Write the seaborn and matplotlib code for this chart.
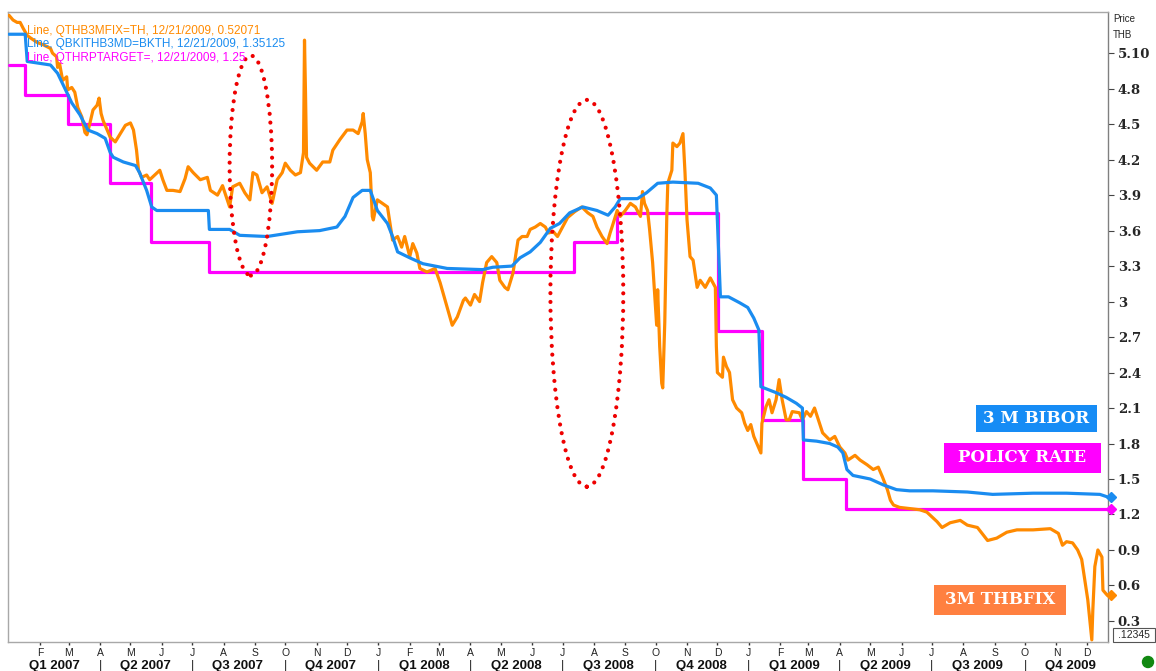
import pandas as pd
import seaborn as sns
import matplotlib.pyplot as plt
import matplotlib.dates as mdates
from matplotlib.patches import Ellipse, Rectangle

sns.set_theme(style="white")
plt.rcParams["font.family"] = ["Liberation Sans", "DejaVu Sans"]

ORANGE = "#ff8a00"
BLUE = "#1a8cf0"
MAGENTA = "#ff00ff"

# 3M THBFIX
fix_dates = [
    "2007-01-01", "2007-01-05", "2007-01-09", "2007-01-12", "2007-01-15", "2007-01-19",
    "2007-01-22", "2007-01-29", "2007-02-04", "2007-02-11", "2007-02-13", "2007-02-17",
    "2007-02-18", "2007-02-20", "2007-02-23", "2007-02-27", "2007-02-28", "2007-03-04",
    "2007-03-07", "2007-03-10", "2007-03-14", "2007-03-17", "2007-03-19", "2007-03-22",
    "2007-03-25", "2007-03-29", "2007-03-31", "2007-04-02", "2007-04-04", "2007-04-08",
    "2007-04-11", "2007-04-16", "2007-04-21", "2007-04-26", "2007-05-01", "2007-05-04",
    "2007-05-07", "2007-05-09", "2007-05-12", "2007-05-17", "2007-05-20", "2007-05-25",
    "2007-05-30", "2007-06-02", "2007-06-06", "2007-06-12", "2007-06-19", "2007-06-24",
    "2007-06-27", "2007-07-02", "2007-07-09", "2007-07-16", "2007-07-19", "2007-07-26",
    "2007-07-31", "2007-08-07", "2007-08-10", "2007-08-17", "2007-08-22", "2007-08-27",
    "2007-08-30", "2007-09-03", "2007-09-08", "2007-09-13", "2007-09-18", "2007-09-23",
    "2007-09-28", "2007-10-01", "2007-10-06", "2007-10-11", "2007-10-16", "2007-10-19",
    "2007-10-20", "2007-10-21", "2007-10-22", "2007-10-25", "2007-11-01", "2007-11-07",
    "2007-11-14", "2007-11-17", "2007-11-24", "2007-12-01", "2007-12-07", "2007-12-12",
    "2007-12-16", "2007-12-17", "2007-12-19", "2007-12-21", "2007-12-24", "2007-12-26",
    "2007-12-27", "2007-12-31", "2008-01-05", "2008-01-10", "2008-01-12", "2008-01-15",
    "2008-01-20", "2008-01-24", "2008-01-27", "2008-02-01", "2008-02-04", "2008-02-08",
    "2008-02-11", "2008-02-18", "2008-02-26", "2008-03-02", "2008-03-09", "2008-03-14",
    "2008-03-19", "2008-03-25", "2008-03-27", "2008-04-01", "2008-04-05", "2008-04-10",
    "2008-04-13", "2008-04-17", "2008-04-22", "2008-04-27", "2008-04-30", "2008-05-05",
    "2008-05-08", "2008-05-13", "2008-05-18", "2008-05-22", "2008-05-27", "2008-05-30",
    "2008-06-04", "2008-06-09", "2008-06-14", "2008-06-17", "2008-06-22", "2008-06-26",
    "2008-07-01", "2008-07-06", "2008-07-13", "2008-07-20", "2008-07-26", "2008-07-31",
    "2008-08-04", "2008-08-09", "2008-08-14", "2008-08-17", "2008-08-20", "2008-08-24",
    "2008-08-27", "2008-09-01", "2008-09-06", "2008-09-11", "2008-09-16", "2008-09-18",
    "2008-09-20", "2008-09-23", "2008-09-25", "2008-09-28", "2008-09-30", "2008-10-02",
    "2008-10-03", "2008-10-05", "2008-10-07", "2008-10-08", "2008-10-10", "2008-10-12",
    "2008-10-13", "2008-10-17", "2008-10-18", "2008-10-22", "2008-10-25", "2008-10-28",
    "2008-10-30", "2008-11-01", "2008-11-04", "2008-11-07", "2008-11-11", "2008-11-14",
    "2008-11-19", "2008-11-24", "2008-11-29", "2008-11-30", "2008-12-01", "2008-12-06",
    "2008-12-07", "2008-12-10", "2008-12-13", "2008-12-16", "2008-12-20", "2008-12-25",
    "2008-12-28", "2008-12-31", "2009-01-03", "2009-01-06", "2009-01-09", "2009-01-13",
    "2009-01-14", "2009-01-18", "2009-01-21", "2009-01-24", "2009-01-28", "2009-01-31",
    "2009-02-03", "2009-02-07", "2009-02-10", "2009-02-13", "2009-02-20", "2009-02-23",
    "2009-02-27", "2009-03-03", "2009-03-07", "2009-03-12", "2009-03-15", "2009-03-22",
    "2009-03-27", "2009-04-01", "2009-04-06", "2009-04-09", "2009-04-16", "2009-04-21",
    "2009-04-28", "2009-05-04", "2009-05-09", "2009-05-13", "2009-05-18", "2009-05-21",
    "2009-05-24", "2009-05-30", "2009-06-09", "2009-06-19", "2009-06-26", "2009-07-06",
    "2009-07-11", "2009-07-19", "2009-07-29", "2009-08-05", "2009-08-15", "2009-08-25",
    "2009-09-03", "2009-09-13", "2009-09-23", "2009-10-09", "2009-10-26", "2009-11-03",
    "2009-11-07", "2009-11-11", "2009-11-17", "2009-11-22", "2009-11-26", "2009-11-29",
    "2009-12-02", "2009-12-06", "2009-12-07", "2009-12-09", "2009-12-12", "2009-12-16",
    "2009-12-17", "2009-12-21",
]
fix_values = [
    5.42, 5.38, 5.36, 5.36, 5.31, 5.25,
    5.23, 5.19, 5.17, 5.14, 5.10, 5.07,
    4.98, 5.01, 4.87, 4.90, 4.79, 4.81,
    4.77, 4.64, 4.56, 4.43, 4.41, 4.51,
    4.62, 4.66, 4.72, 4.59, 4.53, 4.45,
    4.39, 4.35, 4.42, 4.49, 4.51, 4.45,
    4.28, 4.11, 4.05, 4.07, 4.03, 4.07,
    4.11, 4.03, 3.94, 3.94, 3.93, 4.04,
    4.14, 4.09, 4.03, 4.05, 3.94, 3.90,
    3.98, 3.80, 3.97, 4.00, 3.92, 3.86,
    4.09, 4.07, 3.92, 3.97, 3.83, 4.03,
    4.09, 4.17, 4.11, 4.07, 4.09, 4.26,
    5.21, 4.76, 4.22, 4.17, 4.11, 4.18,
    4.18, 4.28, 4.37, 4.45, 4.45, 4.42,
    4.52, 4.59, 4.42, 4.20, 4.09, 3.72,
    3.69, 3.86, 3.83, 3.80, 3.69, 3.52,
    3.55, 3.46, 3.55, 3.38, 3.49, 3.41,
    3.28, 3.25, 3.28, 3.16, 2.95, 2.80,
    2.87, 3.01, 3.03, 2.97, 3.06, 3.00,
    3.16, 3.33, 3.38, 3.33, 3.18, 3.12,
    3.10, 3.24, 3.52, 3.55, 3.55, 3.61,
    3.63, 3.66, 3.63, 3.58, 3.59, 3.55,
    3.63, 3.71, 3.76, 3.80, 3.75, 3.72,
    3.63, 3.55, 3.49, 3.58, 3.66, 3.77,
    3.72, 3.77, 3.83, 3.80, 3.72, 3.93,
    3.83, 3.77, 3.61, 3.33, 3.07, 2.80,
    3.10, 2.62, 2.31, 2.27, 2.82, 3.72,
    4.00, 4.11, 4.34, 4.31, 4.34, 4.42,
    4.09, 3.69, 3.38, 3.35, 3.12, 3.18,
    3.12, 3.20, 3.12, 2.62, 2.40, 2.36,
    2.53, 2.45, 2.40, 2.17, 2.10, 2.06,
    1.97, 1.91, 1.96, 1.86, 1.80, 1.72,
    1.97, 2.11, 2.17, 2.06, 2.17, 2.34,
    2.17, 2.00, 2.00, 2.07, 2.06, 2.00,
    2.07, 2.03, 2.10, 1.97, 1.89, 1.83,
    1.86, 1.77, 1.72, 1.66, 1.70, 1.66,
    1.62, 1.58, 1.60, 1.52, 1.41, 1.32,
    1.28, 1.26, 1.25, 1.24, 1.22, 1.14,
    1.09, 1.13, 1.15, 1.11, 1.09, 0.98,
    1.00, 1.05, 1.07, 1.07, 1.08, 1.04,
    0.94, 0.97, 0.96, 0.90, 0.82, 0.65,
    0.48, 0.14, 0.39, 0.76, 0.90, 0.84,
    0.56, 0.52,
]

# 3M BIBOR
bibor_dates = [
    "2007-01-01", "2007-01-17", "2007-01-19", "2007-02-11", "2007-02-18", "2007-02-27",
    "2007-03-04", "2007-03-12", "2007-03-20", "2007-03-29", "2007-04-06", "2007-04-11",
    "2007-04-14", "2007-04-24", "2007-05-06", "2007-05-10", "2007-05-17", "2007-05-22",
    "2007-05-27", "2007-07-17", "2007-07-18", "2007-08-07", "2007-08-17", "2007-09-13",
    "2007-10-13", "2007-11-04", "2007-11-21", "2007-11-29", "2007-12-07", "2007-12-16",
    "2007-12-24", "2007-12-31", "2008-01-10", "2008-01-15", "2008-01-20", "2008-02-01",
    "2008-02-14", "2008-03-09", "2008-04-13", "2008-04-23", "2008-05-12", "2008-05-20",
    "2008-05-30", "2008-06-09", "2008-06-19", "2008-06-28", "2008-07-08", "2008-07-21",
    "2008-08-04", "2008-08-15", "2008-08-22", "2008-08-27", "2008-09-13", "2008-09-22",
    "2008-10-03", "2008-10-18", "2008-11-12", "2008-11-24", "2008-11-30", "2008-12-04",
    "2008-12-12", "2008-12-23", "2008-12-31", "2009-01-06", "2009-01-11", "2009-01-13",
    "2009-01-28", "2009-02-07", "2009-02-17", "2009-02-23", "2009-02-24", "2009-03-09",
    "2009-03-22", "2009-03-30", "2009-04-04", "2009-04-08", "2009-04-14", "2009-05-01",
    "2009-05-14", "2009-05-27", "2009-06-09", "2009-07-02", "2009-08-05", "2009-08-30",
    "2009-10-09", "2009-11-11", "2009-12-14", "2009-12-21",
]
bibor_values = [
    5.26, 5.26, 5.03, 5.00, 4.93, 4.77,
    4.68, 4.58, 4.45, 4.42, 4.38, 4.26,
    4.22, 4.18, 4.15, 4.09, 3.94, 3.80,
    3.77, 3.77, 3.61, 3.61, 3.56, 3.55,
    3.59, 3.60, 3.63, 3.72, 3.88, 3.94,
    3.94, 3.77, 3.66, 3.55, 3.42, 3.37,
    3.32, 3.28, 3.27, 3.29, 3.30, 3.37,
    3.42, 3.50, 3.62, 3.66, 3.75, 3.80,
    3.77, 3.73, 3.80, 3.87, 3.87, 3.92,
    4.00, 4.01, 4.00, 3.96, 3.90, 3.04,
    3.04, 2.99, 2.95, 2.86, 2.76, 2.28,
    2.23, 2.19, 2.14, 2.10, 1.83, 1.82,
    1.80, 1.77, 1.72, 1.58, 1.53, 1.50,
    1.45, 1.41, 1.40, 1.40, 1.39, 1.37,
    1.38, 1.38, 1.37, 1.35,
]

# policy rate (repo target)
policy_dates = [
    "2007-01-01", "2007-01-17", "2007-02-28", "2007-04-11", "2007-05-21", "2007-07-18",
    "2008-07-12", "2008-08-24", "2008-12-02", "2009-01-14", "2009-02-24", "2009-04-07",
    "2009-12-21",
]
policy_values = [5.00, 4.75, 4.50, 4.00, 3.50, 3.25, 3.50, 3.75, 2.75, 2.00, 1.50, 1.25, 1.25]

ytick_values = [0.3, 0.6, 0.9, 1.2, 1.5, 1.8, 2.1, 2.4, 2.7, 3.0, 3.3, 3.6, 3.9, 4.2, 4.5, 4.8, 5.1]
ytick_labels = ["0.3", "0.6", "0.9", "1.2", "1.5", "1.8", "2.1", "2.4", "2.7", "3",
                "3.3", "3.6", "3.9", "4.2", "4.5", "4.8", "5.10"]

legend_lines = [
    ("Line, QTHB3MFIX=TH, 12/21/2009, 0.52071", ORANGE),
    ("Line, QBKITHB3MD=BKTH, 12/21/2009, 1.35125", BLUE),
    ("Line, QTHRPTARGET=, 12/21/2009, 1.25", MAGENTA),
]

W, H = 1156, 671
fig = plt.figure(figsize=(W / 100, H / 100), dpi=100)
fig.patch.set_facecolor("white")
ax = fig.add_axes([8 / W, 29 / H, 1100 / W, 630 / H])
ax.set_facecolor("white")

fix = pd.DataFrame({"date": pd.to_datetime(fix_dates), "rate": fix_values})
bibor = pd.DataFrame({"date": pd.to_datetime(bibor_dates), "rate": bibor_values})
policy = pd.DataFrame({"date": pd.to_datetime(policy_dates), "rate": policy_values})

sns.lineplot(data=policy, x="date", y="rate", ax=ax, color=MAGENTA, lw=2.3,
             drawstyle="steps-post", estimator=None, sort=False, zorder=3)
sns.lineplot(data=fix, x="date", y="rate", ax=ax, color=ORANGE, lw=2.3,
             estimator=None, sort=False, zorder=4)
sns.lineplot(data=bibor, x="date", y="rate", ax=ax, color=BLUE, lw=2.3,
             estimator=None, sort=False, zorder=5)

# end markers
for df, c in [(bibor, BLUE), (policy, MAGENTA), (fix, ORANGE)]:
    ax.plot(df["date"].iloc[-1] + pd.Timedelta(days=4), df["rate"].iloc[-1], marker="D",
            ms=5, color=c, clip_on=False, zorder=6)

# red dotted ellipses
for cx, w, cy, h in [("2007-08-28", 42, 4.15, 1.86), ("2008-07-25", 72, 3.07, 3.27)]:
    e = Ellipse((mdates.date2num(pd.Timestamp(cx)), cy), width=w, height=h, fill=False,
                edgecolor="#ee0000", lw=3, linestyle=(0, (0.01, 2.1)), zorder=7)
    e.set_capstyle("round")
    ax.add_patch(e)

ax.set_xlim(pd.Timestamp("2006-12-31"), pd.Timestamp("2009-12-22"))
ax.set_ylim(0.122, 5.448)

# right price axis
ax.yaxis.tick_right()
ax.set_yticks(ytick_values)
ax.set_yticklabels(ytick_labels, family="DejaVu Serif", fontweight="bold", fontsize=9.5)
ax.tick_params(axis="y", direction="out", length=4, width=0.8, color="#444444", pad=3,
               right=True, left=False)
ax.set_ylabel("")
ax.set_xlabel("")

# month ticks
months = pd.date_range("2007-02-01", "2009-12-01", freq="MS")
ax.set_xticks(months)
ax.set_xticklabels([m.strftime("%b")[0] for m in months], fontsize=7.5, color="#222222")
ax.tick_params(axis="x", direction="out", length=2, width=1, color="#333333", pad=2,
               bottom=True)

# quarter labels
trans = ax.get_xaxis_transform()
quarters = pd.date_range("2007-01-01", "2009-10-01", freq="QS")
for q in quarters:
    mid = q + pd.Timedelta(days=45)
    ax.text(mid, -0.038, f"Q{q.quarter} {q.year}", transform=trans, ha="center", va="center",
            fontsize=9.5, fontweight="bold", color="#111111", clip_on=False)
    if q != quarters[0]:
        ax.text(q, -0.038, "|", transform=trans, ha="center", va="center", fontsize=9,
                color="#222222", clip_on=False)

for s in ["left", "top", "bottom", "right"]:
    ax.spines[s].set_color("#a8a8a8")
    ax.spines[s].set_linewidth(1)
ax.spines["right"].set_color("#808080")

# legend text
for i, (txt, c) in enumerate(legend_lines):
    fig.text(27 / W, 1 - (31 + i * 13.5) / H, txt, color=c,
             fontsize=8.5, ha="left", va="center", zorder=10)

fig.text(1113 / W, 1 - 19 / H, "Price", fontsize=7, ha="left", va="center")
fig.text(1113 / W, 1 - 35 / H, "THB", fontsize=7, ha="left", va="center")


def label_box(x0, y0, x1, y1, text, color, size):
    r = Rectangle((x0 / W, 1 - y1 / H), (x1 - x0) / W, (y1 - y0) / H,
                  transform=fig.transFigure, facecolor=color, edgecolor="none", zorder=20)
    fig.add_artist(r)
    fig.text((x0 + x1) / 2 / W, 1 - (y0 + y1) / 2 / H, text, color="white",
             family="DejaVu Serif", fontweight="bold", fontsize=size, ha="center",
             va="center", zorder=21)


label_box(976, 405, 1097, 432, "3 M BIBOR", "#168cf5", 12)
label_box(944, 443, 1101, 473, "POLICY RATE", MAGENTA, 12)
label_box(934, 585, 1066, 615, "3M THBFIX", "#ff8040", 12)

# small box and status dot
box = Rectangle((1113 / W, 1 - 642 / H), 42 / W, 14 / H, transform=fig.transFigure,
                facecolor="white", edgecolor="#555555", lw=0.8, zorder=20)
fig.add_artist(box)
fig.text(1134 / W, 1 - 635 / H, ".12345", fontsize=7.5, ha="center", va="center", zorder=21)
fig.add_artist(Ellipse((1148 / W, 1 - 662 / H), 11 / W, 11 / H, transform=fig.transFigure,
                       color="#118811", zorder=20))

fig.savefig("out.png", dpi=100)
